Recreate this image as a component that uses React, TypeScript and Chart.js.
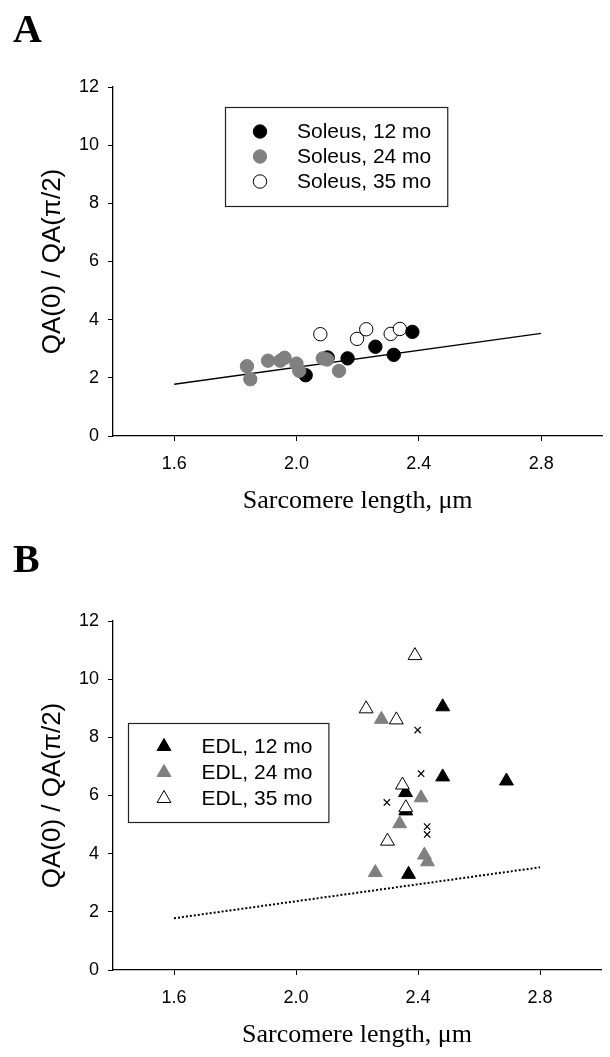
import React, { useEffect, useRef } from "react";
import { Chart, registerables } from "chart.js";

Chart.register(...registerables);

// ---------- Data ----------
// Panel A: Soleus
const soleus12X = [2.03, 2.102, 2.167, 2.258, 2.318, 2.379];
const soleus12Y = [2.09, 2.7, 2.67, 3.07, 2.79, 3.58];
const soleus24X = [1.838, 1.849, 1.907, 1.947, 1.961, 2.0, 2.009, 2.086, 2.1, 2.139];
const soleus24Y = [2.4, 1.95, 2.59, 2.59, 2.69, 2.49, 2.24, 2.67, 2.63, 2.24];
const soleus35X = [2.078, 2.198, 2.228, 2.308, 2.338];
const soleus35Y = [3.5, 3.34, 3.67, 3.51, 3.68];

// Panel B: EDL
const edl12X = [2.481, 2.481, 2.69, 2.359, 2.36, 2.369];
const edl12Y = [9.05, 6.64, 6.5, 6.1, 5.47, 3.29];
const edl24X = [2.28, 2.41, 2.34, 2.421, 2.431, 2.26];
const edl24Y = [8.62, 5.92, 5.03, 3.95, 3.72, 3.35];
const edl35X = [2.39, 2.23, 2.329, 2.349, 2.36, 2.3];
const edl35Y = [10.81, 8.98, 8.6, 6.36, 5.58, 4.43];
const crossX = [2.399, 2.41, 2.298, 2.43, 2.43];
const crossY = [8.25, 6.75, 5.76, 4.93, 4.66];

// Regression line (soleus fit)
const fitX = [1.6, 2.8];
const fitY = [1.78, 3.53];

// Axes
const xTicks = [1.6, 2.0, 2.4, 2.8];
const yTicks = [0, 2, 4, 6, 8, 10, 12];
const xTitle = "Sarcomere length, \u03bcm";
const yTitle = "QA(0) / QA(\u03c0/2)";

const GRAY = "#808080";
const SANS = "'Liberation Sans', Arial, Helvetica, sans-serif";
const SERIF = "'Liberation Serif', 'Times New Roman', serif";

const pts = (xs: number[], ys: number[]) => xs.map((x, i) => ({ x, y: ys[i] }));

function drawMarker(ctx: CanvasRenderingContext2D, style: string, x: number, y: number, r: number, fill: string, stroke: string) {
  ctx.beginPath();
  if (style === "triangle") {
    ctx.moveTo(x, y - r);
    ctx.lineTo(x + 0.866 * r, y + 0.5 * r);
    ctx.lineTo(x - 0.866 * r, y + 0.5 * r);
    ctx.closePath();
  } else {
    ctx.arc(x, y, r, 0, Math.PI * 2);
  }
  ctx.fillStyle = fill;
  ctx.fill();
  ctx.lineWidth = 1;
  ctx.strokeStyle = stroke;
  ctx.stroke();
}

const decorPlugin = {
  id: "panelDecor",
  afterDraw(chart: any, _args: any, opts: any) {
    const ctx: CanvasRenderingContext2D = chart.ctx;
    ctx.save();
    // panel letter
    ctx.font = `bold ${opts.letterSize}px ${SERIF}`;
    ctx.fillStyle = "#000";
    ctx.textAlign = "left";
    ctx.textBaseline = "alphabetic";
    ctx.fillText(opts.letter, opts.letterX, opts.letterY);

    // boxed legend
    const items = chart.data.datasets.filter((d: any) => d.inLegend);
    ctx.font = `${opts.legendFont}px ${SANS}`;
    let maxW = 0;
    items.forEach((d: any) => {
      maxW = Math.max(maxW, ctx.measureText(d.label).width);
    });
    const left = opts.legendLeft;
    const top = opts.legendTop;
    const w = opts.textOffset + maxW + opts.rightPad;
    const h = opts.legendHeight;
    ctx.fillStyle = "#fff";
    ctx.fillRect(left, top, w, h);
    ctx.lineWidth = 1.2;
    ctx.strokeStyle = "#222";
    ctx.strokeRect(left + 0.5, top + 0.5, w, h);
    items.forEach((d: any, i: number) => {
      const cy = top + opts.firstRow + i * opts.rowGap;
      drawMarker(ctx, d.pointStyle, left + opts.markerOffset, cy, d.pointRadius, d.backgroundColor, d.borderColor);
      ctx.fillStyle = "#000";
      ctx.textBaseline = "middle";
      ctx.font = `${opts.legendFont}px ${SANS}`;
      ctx.fillText(d.label, left + opts.textOffset, cy + 1);
    });
    ctx.restore();
  },
};

function makeConfig(panel: "A" | "B"): any {
  const datasets: any[] = [];
  const cr = 6.7;
  const tr = 8;
  if (panel === "A") {
    datasets.push(
      { label: "Soleus, 12 mo", inLegend: true, data: pts(soleus12X, soleus12Y), pointStyle: "circle", pointRadius: cr, backgroundColor: "#000", borderColor: "#000", borderWidth: 1, order: 2 },
      { label: "Soleus, 24 mo", inLegend: true, data: pts(soleus24X, soleus24Y), pointStyle: "circle", pointRadius: cr, backgroundColor: GRAY, borderColor: GRAY, borderWidth: 1, order: 1 },
      { label: "Soleus, 35 mo", inLegend: true, data: pts(soleus35X, soleus35Y), pointStyle: "circle", pointRadius: cr, backgroundColor: "#fff", borderColor: "#000", borderWidth: 1, order: 3 },
      { label: "fit", data: pts(fitX, fitY), showLine: true, pointRadius: 0, borderColor: "#000", borderWidth: 1.3, order: 10 }
    );
  } else {
    datasets.push(
      { label: "EDL, 12 mo", inLegend: true, data: pts(edl12X, edl12Y), pointStyle: "triangle", pointRadius: tr, backgroundColor: "#000", borderColor: "#000", borderWidth: 1, order: 4 },
      { label: "EDL, 24 mo", inLegend: true, data: pts(edl24X, edl24Y), pointStyle: "triangle", pointRadius: tr, backgroundColor: GRAY, borderColor: GRAY, borderWidth: 1, order: 3 },
      { label: "EDL, 35 mo", inLegend: true, data: pts(edl35X, edl35Y), pointStyle: "triangle", pointRadius: tr, backgroundColor: "#fff", borderColor: "#000", borderWidth: 1, order: 2 },
      { label: "x", data: pts(crossX, crossY), pointStyle: "crossRot", pointRadius: 4.5, borderColor: "#000", borderWidth: 1.2, order: 1 },
      { label: "fit", data: pts(fitX, fitY), showLine: true, pointRadius: 0, borderColor: "#000", borderWidth: 2, borderDash: [2, 2], order: 10 }
    );
  }

  const legendOpts =
    panel === "A"
      ? { legendLeft: 225, legendTop: 107, legendHeight: 99, firstRow: 24.5, rowGap: 25, markerOffset: 35, textOffset: 72, rightPad: 16 }
      : { legendLeft: 128, legendTop: 189, legendHeight: 99, firstRow: 23.5, rowGap: 26, markerOffset: 36, textOffset: 73.5, rightPad: 16 };

  return {
    type: "scatter",
    data: { datasets },
    plugins: [decorPlugin],
    options: {
      responsive: false,
      animation: false,
      events: [],
      layout: { padding: { top: 87, left: 0, right: 0, bottom: 0 } },
      plugins: {
        legend: { display: false },
        tooltip: { enabled: false },
        panelDecor: {
          letter: panel,
          letterSize: 40,
          letterX: 13,
          letterY: panel === "A" ? 42 : 38,
          legendFont: 21,
          ...legendOpts,
        },
      },
      scales: {
        x: {
          type: "linear",
          min: 1.4,
          max: 3.0,
          afterBuildTicks: (s: any) => {
            s.ticks = xTicks.map((v) => ({ value: v }));
          },
          afterFit: (s: any) => {
            s.height = 98;
          },
          ticks: {
            callback: (v: any) => Number(v).toFixed(1),
            font: { family: SANS, size: 18 },
            color: "#000",
            padding: 12,
            maxRotation: 0,
          },
          grid: { drawOnChartArea: false, drawTicks: true, tickLength: 5, color: "#000", lineWidth: 1 },
          border: { color: "#000", width: 1.3 },
          title: {
            display: true,
            text: xTitle,
            color: "#000",
            font: { family: SERIF, size: 26 },
            padding: { top: 0, bottom: 17 },
          },
        },
        y: {
          type: "linear",
          min: 0,
          max: 12,
          afterBuildTicks: (s: any) => {
            s.ticks = yTicks.map((v) => ({ value: v }));
          },
          afterFit: (s: any) => {
            s.width = 113;
          },
          ticks: {
            callback: (v: any) => String(v),
            font: { family: SANS, size: 18 },
            color: "#000",
            padding: 9,
          },
          grid: { drawOnChartArea: false, drawTicks: true, tickLength: 5, color: "#000", lineWidth: 1 },
          border: { color: "#000", width: 1.3 },
          title: {
            display: true,
            text: yTitle,
            color: "#000",
            font: { family: SANS, size: 26 },
            padding: { top: 37, bottom: 0 },
          },
        },
      },
    },
  };
}

function Panel({ panel }: { panel: "A" | "B" }) {
  const ref = useRef<HTMLCanvasElement | null>(null);
  useEffect(() => {
    if (!ref.current) return;
    const chart = new Chart(ref.current, makeConfig(panel));
    return () => chart.destroy();
  }, [panel]);
  return <canvas ref={ref} width={610} height={534} style={{ display: "block", width: 610, height: 534 }} />;
}

export default function App() {
  return (
    <div
      style={{
        position: "absolute",
        left: 0,
        top: 0,
        width: 610,
        height: 1057,
        overflow: "hidden",
        background: "#fff",
      }}
    >
      <Panel panel="A" />
      <Panel panel="B" />
    </div>
  );
}
